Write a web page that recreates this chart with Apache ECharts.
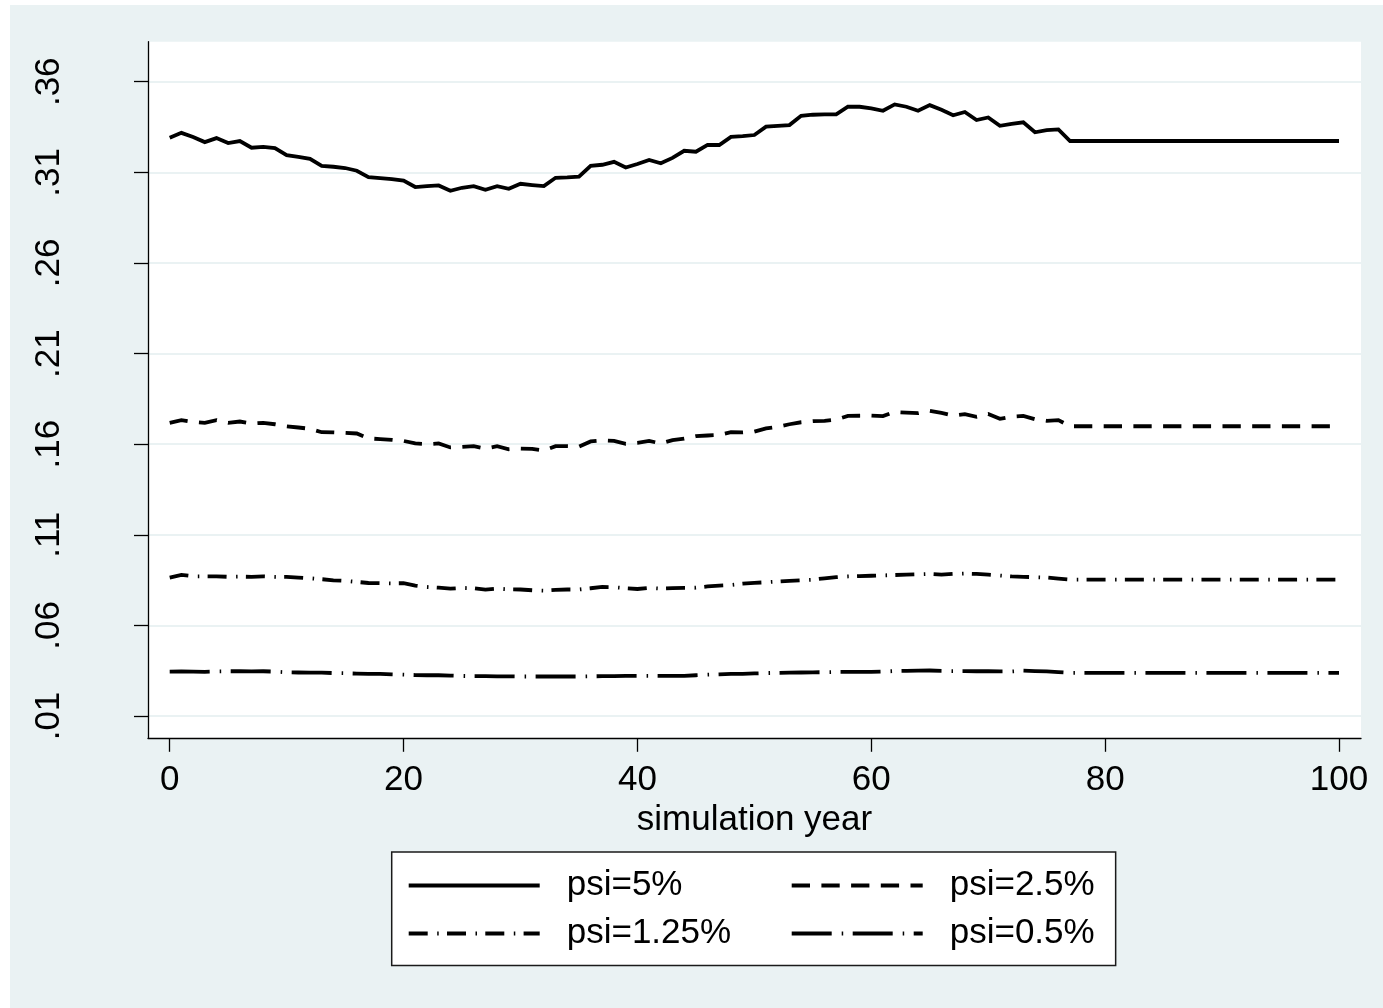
<!DOCTYPE html>
<html>
<head>
<meta charset="utf-8">
<script src="https://cdn.jsdelivr.net/npm/echarts@6/dist/echarts.min.js"></script>
<style>
html,body{margin:0;padding:0;background:#fff;}
#chart{position:absolute;left:10px;top:5px;width:1373px;height:1003px;}
</style>
</head>
<body>
<div id="chart"></div>
<script>
// ---- data ----
const years = [0,1,2,3,4,5,6,7,8,9,10,11,12,13,14,15,16,17,18,19,20,21,22,23,24,25,26,27,28,29,30,31,32,33,34,35,36,37,38,39,40,41,42,43,44,45,46,47,48,49,50,51,52,53,54,55,56,57,58,59,60,61,62,63,64,65,66,67,68,69,70,71,72,73,74,75,76,77,78,79,80,81,82,83,84,85,86,87,88,89,90,91,92,93,94,95,96,97,98,99,100];

const psi5 = [.3291,.3318,.3295,.3267,.3289,.3262,.3273,.3236,.3241,.3234,
.3195,.3186,.3175,.3136,.3131,.3124,.3109,.3074,.3068,.3063,
.3054,.3019,.3024,.3028,.2998,.3015,.3024,.3004,.3024,.3009,
.3037,.3030,.3024,.3070,.3072,.3076,.3136,.3142,.3158,.3127,
.3146,.3168,.3150,.3180,.3219,.3214,.3252,.3251,.3296,.3300,
.3306,.3352,.3357,.3361,.3412,.3418,.3420,.3420,.3462,.3462,
.3453,.3440,.3475,.3462,.3440,.3471,.3445,.3415,.3433,.3389,
.3403,.3357,.3367,.3376,.3321,.3333,.3337,
.3273,.3273,.3273,.3273,.3273,.3273,.3273,.3273,.3273,.3273,.3273,.3273,
.3273,.3273,.3273,.3273,.3273,.3273,.3273,.3273,.3273,.3273,.3273,.3273];

const psi25 = [.1718,.1733,.1723,.1718,.1733,.1718,.1725,.1714,.1718,.1710,
.1699,.1692,.1685,.1666,.1665,.1662,.1659,.1632,.1628,.1624,
.1618,.1604,.1600,.1604,.1582,.1585,.1589,.1576,.1589,.1572,
.1576,.1574,.1565,.1589,.1589,.1587,.1615,.1621,.1618,.1602,
.1607,.1618,.1604,.1622,.1630,.1644,.1648,.1651,.1666,.1665,
.1669,.1687,.1696,.1710,.1721,.1727,.1729,.1736,.1756,.1757,
.1758,.1755,.1778,.1774,.1771,.1784,.1773,.1758,.1766,.1751,
.1766,.1740,.1752,.1756,.1738,.1729,.1733,
.1699,.1699,.1699,.1699,.1699,.1699,.1699,.1699,.1699,.1699,.1699,.1699,
.1699,.1699,.1699,.1699,.1699,.1699,.1699,.1699,.1699,.1699,.1699,.1699];

const psi125 = [.0864,.0879,.0871,.0871,.0871,.0868,.0869,.0868,.0871,.0868,
.0868,.0864,.0860,.0855,.0849,.0846,.0840,.0834,.0833,.0832,
.0833,.0820,.0812,.0808,.0803,.0807,.0805,.0798,.0803,.0799,
.0798,.0794,.0792,.0796,.0798,.0798,.0805,.0812,.0811,.0805,
.0801,.0807,.0803,.0806,.0807,.0808,.0815,.0820,.0823,.0830,
.0835,.0838,.0842,.0846,.0849,.0852,.0860,.0866,.0870,.0872,
.0874,.0876,.0878,.0880,.0882,.0884,.0880,.0884,.0886,.0884,
.0880,.0875,.0870,.0868,.0866,.0864,.0858,
.0853,.0853,.0853,.0853,.0853,.0853,.0853,.0853,.0853,.0853,.0853,.0853,
.0853,.0853,.0853,.0853,.0853,.0853,.0853,.0853,.0853,.0853,.0853,.0853];

const psi05 = [.0345,.0346,.0345,.0344,.0346,.0347,.0347,.0346,.0347,.0345,
.0341,.0340,.0339,.0339,.0337,.0336,.0334,.0333,.0332,.0330,
.0328,.0326,.0325,.0325,.0323,.0321,.0320,.0320,.0319,.0319,
.0318,.0318,.0318,.0318,.0318,.0318,.0319,.0320,.0320,.0321,
.0321,.0321,.0321,.0321,.0322,.0325,.0328,.0330,.0332,.0333,
.0335,.0337,.0338,.0339,.0340,.0341,.0342,.0343,.0343,.0343,
.0343,.0345,.0348,.0349,.0350,.0351,.0349,.0348,.0348,.0347,
.0347,.0346,.0346,.0350,.0348,.0346,.0342,
.0338,.0338,.0338,.0338,.0338,.0338,.0338,.0338,.0338,.0338,.0338,.0338,
.0338,.0338,.0338,.0338,.0338,.0338,.0338,.0338,.0338,.0338,.0338,.0338];

const seriesNames = ['psi=5%','psi=2.5%','psi=1.25%','psi=0.5%'];
const xTicks = [0,20,40,60,80,100];
const yTicks = [0.01,0.06,0.11,0.16,0.21,0.26,0.31,0.36];
const yTickLabels = ['.01','.06','.11','.16','.21','.26','.31','.36'];
const xTitle = 'simulation year';

// ---- chart ----
const FONT = "'Liberation Sans', Arial, Helvetica, sans-serif";
const dashes = [null, [18.3, 11.4], [19, 9.5, 1.5, 8.3], [40, 10, 1.5, 9.5]];
const allData = [psi5, psi25, psi125, psi05];

const chart = echarts.init(document.getElementById('chart'), null, {renderer:'canvas'});

const series = allData.map((vals, i) => ({
  name: seriesNames[i],
  type: 'line',
  data: years.map((y, j) => [y, vals[j]]),
  symbol: 'none',
  showSymbol: false,
  smooth: false,
  z: 3,
  lineStyle: {
    color: '#000',
    width: 3.8,
    type: dashes[i] ? dashes[i] : 'solid',
    cap: 'butt',
    join: 'miter'
  },
  itemStyle: {color:'#000'}
}));

const legendText = {fontSize: 35, color: '#000', fontFamily: FONT, lineHeight: 38, padding: [0,0,0,22]};

const option = {
  animation: false,
  backgroundColor: '#EAF2F3',
  textStyle: {fontFamily: FONT},
  grid: {
    left: 138, top: 36.7, right: 22, bottom: 269.7,
    show: true, backgroundColor: '#ffffff', borderWidth: 0,
    containLabel: false
  },
  xAxis: {
    type: 'value',
    min: -1.856, max: 101.88,
    name: xTitle,
    nameLocation: 'middle',
    nameGap: 52,
    nameTextStyle: {fontSize: 35, color: '#000', fontFamily: FONT},
    axisLine: {show: true, onZero: false, lineStyle: {color: '#000', width: 1.3}},
    axisTick: {show: true, length: 13.5, lineStyle: {color: '#000', width: 1.3}, customValues: xTicks},
    axisLabel: {show: true, margin: 25, fontSize: 35, color: '#000', fontFamily: FONT,
      customValues: xTicks, formatter: v => String(v)},
    splitLine: {show: false}
  },
  yAxis: {
    type: 'value',
    min: -0.0023, max: 0.3821,
    axisLine: {show: true, onZero: false, lineStyle: {color: '#000', width: 1.3}},
    axisTick: {show: true, length: 14, lineStyle: {color: '#000', width: 1.3}, customValues: yTicks},
    axisLabel: {show: true, rotate: 90, margin: 81, fontSize: 35, color: '#000', fontFamily: FONT,
      customValues: yTicks,
      formatter: v => {
        let k = 0, best = 1e9;
        yTicks.forEach((t, i) => { const d = Math.abs(t - v); if (d < best) { best = d; k = i; } });
        return yTickLabels[k];
      }},
    splitLine: {show: true, lineStyle: {color: '#EAF2F3', width: 2}}
  },
  legend: {
    show: true,
    selectedMode: false,
    left: 381.7, top: 847,
    width: 720,
    orient: 'horizontal',
    padding: [14.5, 21, 13, 15],
    itemGap: 10,
    itemWidth: 131,
    itemHeight: 38,
    backgroundColor: '#ffffff',
    borderColor: '#1a1a1a',
    borderWidth: 1.5,
    borderRadius: 0,
    itemStyle: {opacity: 0, color: 'rgba(0,0,0,0)', borderWidth: 0},
    lineStyle: {width: 4, color: '#000', cap: 'butt', opacity: 1},
    textStyle: legendText,
    data: seriesNames.map((n, i) => (i % 2 === 0
      ? {name: n, textStyle: Object.assign({}, legendText, {width: 213})}
      : {name: n}))
  },
  series: series
};
chart.setOption(option);
</script>
</body>
</html>
